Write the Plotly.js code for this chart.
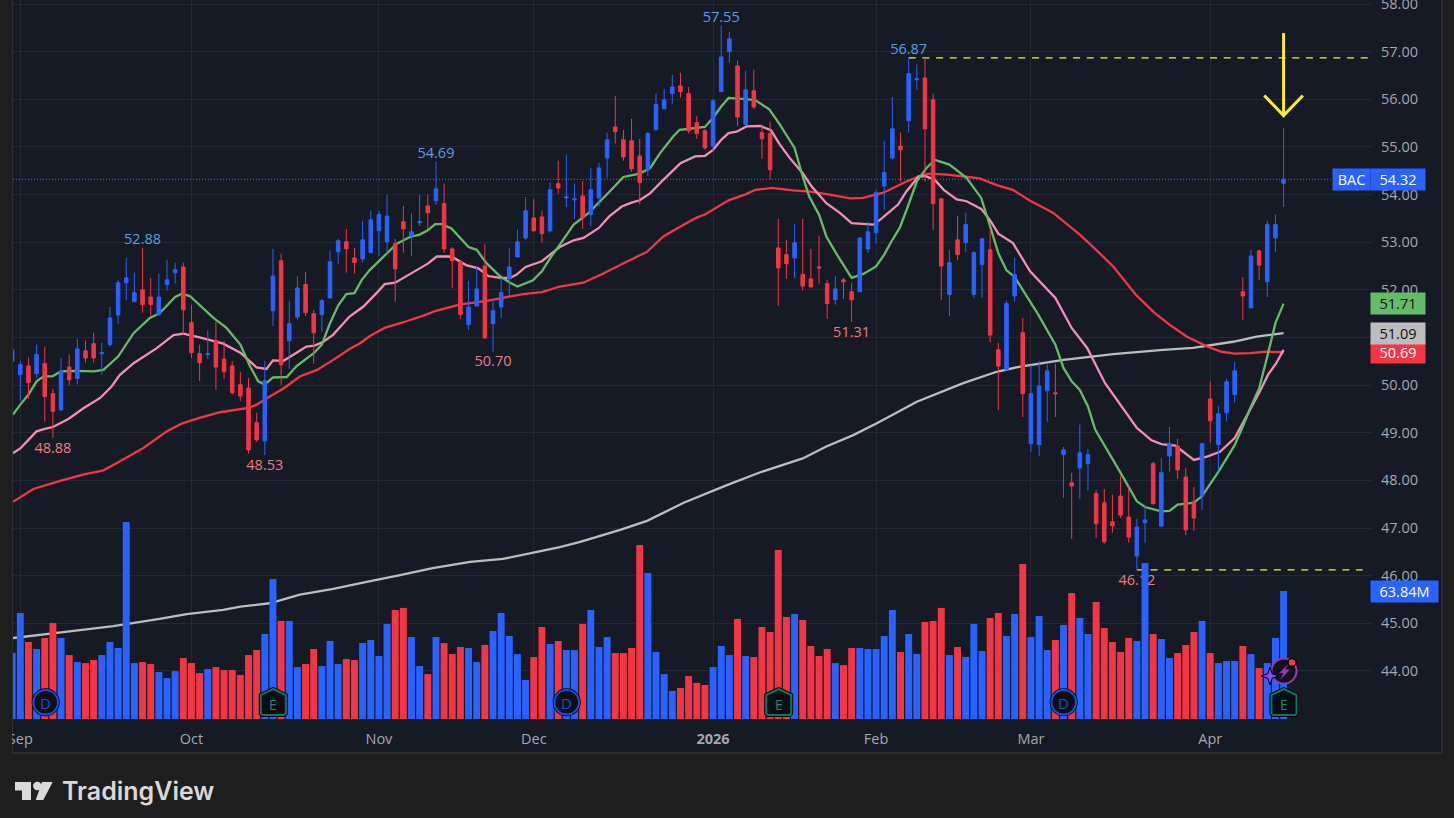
<!DOCTYPE html>
<html>
<head>
<meta charset="utf-8">
<script src="https://cdn.plot.ly/plotly-3.0.1.min.js"></script>
<style>
html,body{margin:0;padding:0;background:#1e1e1e;overflow:hidden;width:1454px;height:818px}
#pane{position:absolute;left:12px;top:-2px;width:1428px;height:754px;background:#161a25;border:1px solid #2c2d30;border-width:0 2px 2px 1px}
#chart{position:absolute;left:0;top:0;width:1454px;height:818px}
#cover{position:absolute;left:0;top:0;width:12px;height:818px;background:#1e1e1e}
</style>
</head>
<body>
<div id="pane"></div>
<div id="chart"></div>
<div id="cover"></div>
<script>
// First candle index (bars run -1..155, one session per step)
const firstBar = -1;
const opens = [50.50,
50.22,50.40,50.24,50.45,49.82,49.48,50.38,50.14,50.72,50.87,
50.66,50.85,51.47,52.15,51.75,52.00,51.85,51.48,52.11,52.36,
52.48,51.31,50.66,50.64,50.93,50.55,50.40,50.01,49.94,49.21,
48.83,51.56,52.61,50.93,51.43,52.11,51.50,51.48,51.83,52.80,
53.01,52.67,52.65,52.78,53.24,53.01,52.97,53.43,53.13,53.41,
53.76,53.87,53.81,52.86,52.59,51.27,51.66,52.50,51.29,51.64,
52.23,52.69,53.09,53.51,53.53,53.24,54.23,53.93,53.89,53.97,
53.58,53.93,54.77,55.42,55.15,55.13,54.81,54.52,55.36,55.80,
56.12,56.28,56.12,55.51,55.34,55.02,56.16,57.00,56.70,55.47,
56.18,55.30,55.28,52.88,52.74,52.67,52.32,52.23,52.48,52.13,
51.79,52.21,51.96,51.96,52.86,53.20,54.18,54.77,55.02,55.55,
56.41,56.45,55.99,53.91,51.90,53.05,52.99,51.90,52.53,52.84,
50.74,50.32,51.87,51.10,48.77,48.75,49.88,49.84,48.54,47.95,
48.26,48.35,47.72,47.53,47.13,47.67,47.23,46.41,47.11,48.35,
47.04,48.51,48.72,48.07,47.55,47.67,49.71,48.75,49.42,49.80,
51.96,51.62,52.82,52.17,53.09,54.24];
const closes = [50.74,
50.43,50.05,50.64,49.76,49.45,50.30,50.11,50.76,50.57,50.57,
50.68,51.41,52.15,52.25,51.94,51.69,51.69,51.85,52.21,52.42,
51.58,50.68,50.47,50.66,50.38,50.28,49.84,49.77,48.64,48.85,
50.09,52.29,50.43,51.29,52.04,51.52,51.10,51.77,52.59,53.03,
52.86,52.57,53.05,53.47,53.58,53.55,52.44,53.28,53.22,53.43,
53.62,54.12,52.86,52.61,51.48,51.64,52.02,50.99,51.56,51.94,
52.48,53.01,53.66,53.24,53.18,54.10,54.14,53.95,53.91,53.53,
54.10,54.56,55.15,55.32,54.79,54.54,54.25,55.28,55.89,55.99,
56.26,56.16,55.34,55.28,54.98,55.97,56.89,57.27,55.63,56.20,
55.84,55.17,54.52,52.46,52.55,52.99,52.08,52.06,52.46,51.71,
52.02,52.17,51.79,53.09,53.22,54.04,54.46,55.38,54.94,56.54,
56.43,55.38,53.81,52.50,52.57,52.74,53.37,52.78,53.07,51.05,
50.40,51.71,52.32,49.82,49.82,49.98,50.30,49.82,48.64,47.88,
48.58,48.54,47.09,46.71,47.05,47.27,46.81,47.02,47.17,47.51,
48.16,48.77,48.22,46.96,47.21,48.77,49.25,49.40,50.07,50.30,
51.87,52.71,52.52,53.37,53.37,54.32];
const highs = [51.00,
50.50,50.58,50.85,50.81,49.92,50.57,50.64,50.97,50.93,51.10,
50.89,51.64,52.21,52.67,52.36,52.88,52.25,52.34,52.63,52.57,
52.57,51.69,50.85,51.14,51.33,50.93,50.51,50.28,50.15,49.42,
50.51,52.86,52.76,51.77,52.29,52.38,51.58,51.81,52.82,53.07,
53.28,52.88,53.45,53.66,53.66,53.99,53.07,53.76,53.60,54.00,
54.00,54.69,54.23,52.90,52.61,52.19,52.50,52.97,51.81,52.25,
52.88,53.26,53.95,53.91,53.66,54.25,54.71,54.84,54.23,54.29,
54.56,54.67,55.30,56.07,55.36,55.59,55.17,55.32,56.12,56.22,
56.51,56.56,56.26,55.65,55.38,56.00,57.55,57.42,56.81,56.60,
56.62,55.47,55.53,53.49,53.05,53.39,53.49,52.86,53.13,52.21,
52.29,52.25,52.15,53.09,53.43,54.10,55.13,56.05,55.30,56.87,
56.73,56.87,56.12,53.93,52.84,53.55,53.62,52.82,53.09,53.26,
50.89,51.77,52.67,51.41,50.43,50.51,50.43,50.45,48.70,48.16,
49.17,48.66,47.80,47.82,47.70,48.09,47.88,47.19,47.46,48.39,
48.47,49.12,48.87,48.26,47.86,48.79,50.07,49.56,50.13,50.49,
52.27,52.84,52.84,53.45,53.58,55.40];
const lows = [50.39,
49.67,49.71,50.15,49.23,48.89,49.46,49.99,50.01,50.47,50.47,
50.22,50.81,51.29,51.78,51.75,51.52,51.45,51.45,51.98,52.13,
51.06,50.57,50.09,50.55,49.90,50.13,49.80,49.67,48.56,48.81,
48.53,51.24,50.01,50.34,51.37,51.45,50.45,51.12,51.83,52.55,
52.36,52.34,52.57,52.78,52.71,52.74,51.75,52.78,52.71,53.34,
53.28,53.79,52.78,52.04,51.39,51.16,51.66,50.97,50.70,51.41,
51.87,52.69,53.05,53.22,52.99,53.20,54.02,53.74,53.49,53.28,
53.34,53.76,54.35,55.07,54.71,54.48,53.79,54.39,55.36,55.80,
55.91,56.03,55.28,55.17,54.94,54.90,56.16,56.77,55.44,55.47,
55.80,54.75,54.31,51.66,52.23,52.25,51.98,52.06,52.13,51.39,
51.69,51.81,51.33,51.96,52.78,52.97,53.68,54.73,54.27,55.30,
56.20,54.27,53.26,51.79,51.45,52.63,52.80,51.83,51.83,50.90,
49.48,50.32,51.75,49.33,48.60,48.51,49.23,49.33,47.63,46.77,
47.61,47.78,46.79,46.67,46.90,47.21,46.69,46.12,46.69,47.49,
47.02,48.18,48.03,46.85,46.94,47.38,48.79,48.20,49.25,49.63,
51.37,51.62,52.21,51.85,52.80,53.74];
const volumes = [32.9,
52.9,38.4,34.9,40.4,47.9,40.4,31.9,28.4,27.9,29.4,
31.9,38.4,35.4,98.3,27.9,28.4,27.4,23.4,20.4,23.9,
30.4,27.9,22.9,24.9,25.9,24.4,24.4,21.9,31.9,34.4,
42.4,69.8,48.9,48.9,25.9,27.4,34.9,26.4,38.9,27.4,
29.9,29.4,37.9,39.4,31.4,47.4,54.4,55.4,40.9,26.4,
22.4,40.9,37.9,32.4,35.9,35.4,28.4,36.9,43.9,52.9,
41.4,32.4,19.5,30.9,45.9,37.4,38.9,34.4,34.4,47.4,
54.4,35.9,40.9,32.9,32.9,35.4,86.8,72.8,33.4,22.4,
14.0,15.5,21.4,18.0,17.0,25.9,36.4,31.9,49.9,31.4,
30.9,45.9,43.4,84.3,50.9,52.4,49.4,36.4,31.4,34.9,
27.9,26.9,35.4,35.4,34.9,34.9,41.4,54.4,33.4,42.4,
32.4,48.4,48.9,55.4,31.9,35.9,30.9,47.4,33.9,50.4,
52.9,41.4,52.4,77.3,40.9,51.4,34.4,39.4,46.9,62.8,
50.4,42.4,58.4,45.4,38.4,33.4,40.4,38.9,77.8,42.4,
39.9,30.4,32.9,36.9,43.4,48.9,32.9,27.9,28.9,28.9,
36.4,32.4,25.4,27.9,40.4,63.84];

// Moving averages: bar position, value
const greenX = [-0.9,0,1,2,2.8,4,5,6.9,9,10.2,12,13.9,15.9,17.1,19,19.8,20.8,23.7,25.3,27,28.2,29.2,30,31,32.7,33.9,36,37,38,39,40,41,41.9,42.9,44.1,46.2,47.8,49,50,50.9,51.7,52.9,55,56,57.2,58.9,60.1,61,62.9,64,65,66.2,67.9,69.7,71.9,74,76,77.3,78.5,80.1,80.9,84,85,86,86.9,90.1,91.9,93.2,95,96,96.8,98,98.9,100.2,102,103.5,105,106,106.9,107.9,108.9,110,111.2,112.2,114,116.1,117.9,119,120,121,122,124.9,127,128,129,130,131,131.9,134.9,137,138,140,141,142,144,145,147,149,150,151,152,153,154,155];
const greenY = [49.38,49.59,49.80,50.08,50.18,50.19,50.29,50.30,50.29,50.32,50.60,51.09,51.41,51.51,51.85,51.92,51.87,51.41,51.20,50.85,50.39,50.08,50.01,50.16,50.17,50.40,50.67,50.85,51.30,51.67,51.91,51.93,52.21,52.42,52.62,52.97,53.11,53.16,53.25,53.38,53.38,53.29,52.90,52.84,52.56,52.28,52.15,52.07,52.20,52.39,52.66,52.95,53.37,53.61,53.99,54.37,54.44,54.56,54.87,55.22,55.36,55.42,55.61,55.85,56.03,55.99,55.79,55.47,54.98,54.38,53.96,53.58,53.12,52.74,52.25,52.34,52.49,52.74,53.02,53.30,53.75,54.28,54.56,54.73,54.63,54.35,53.93,53.33,52.77,52.41,52.27,51.48,50.85,50.36,50.08,49.90,49.55,49.06,48.19,47.56,47.44,47.35,47.36,47.49,47.53,47.67,48.18,48.74,49.13,49.55,49.93,50.60,51.30,51.71];
const pinkX = [-0.9,0,1,2,3,4,5.9,7.7,9.8,11.2,12.2,13.9,16.7,18.8,20,22,24.9,27,29,30.2,31,32.3,33.9,35.1,36.1,37.2,38.4,40.4,42.1,43.7,44.7,46,47.8,50,51.1,52.9,54.7,56.2,57.4,58.9,60.1,60.9,62,64,65,66.2,67.9,69.1,71,72.3,73.8,75,76,77.3,78.9,81,82.8,84,85,86,86.9,87.9,89.1,90.8,92.1,93.2,94.4,96,97.1,98.9,100.6,102,104.7,105.7,107.7,108.7,110.2,111,112.2,113.3,114.9,116.1,117.9,119,120,121.8,123.9,127,129,130.9,133.1,137,138.8,140,141.7,144,145.6,147.2,149,151,152.1,153.1,154.1,155];
const pinkY = [48.57,48.67,48.85,49.03,49.08,49.12,49.29,49.51,49.73,49.97,50.21,50.46,50.77,51.05,51.08,51.00,50.87,50.68,50.37,50.34,50.52,50.51,50.68,50.81,50.83,50.91,51.06,51.44,51.65,51.93,52.12,52.15,52.33,52.55,52.70,52.70,52.52,52.45,52.29,52.25,52.25,52.32,52.48,52.60,52.74,52.90,53.04,53.09,53.30,53.55,53.75,53.83,53.88,54.03,54.31,54.66,54.80,54.81,54.94,55.15,55.29,55.32,55.43,55.44,55.35,55.05,54.77,54.45,54.17,53.82,53.61,53.40,53.37,53.50,53.79,54.06,54.38,54.39,54.31,54.10,53.90,53.86,53.70,53.46,53.18,52.98,52.39,51.83,51.20,50.78,50.04,49.10,48.84,48.76,48.73,48.43,48.50,48.60,48.89,49.52,49.87,50.22,50.46,50.74];
const redX = [-0.9,1.6,4.9,7.7,10.2,11.8,15.1,18,19.8,22,24.5,28,29,30.6,32.3,34.3,36.4,38.4,40.5,41.7,42.9,44.7,47.4,49.8,51,53.9,57.2,61.7,64,66.2,69.1,71.6,73.6,76.9,78.9,80.9,82.9,84,86.9,88.9,90.2,92.2,94.8,96.9,99.3,101.8,103.4,105.9,108.8,110.4,111.6,113.7,115.7,117.7,119.8,121.8,123.8,126.7,130,132,134.1,136.9,139.2,141,143.1,145.6,147.4,149,150.9,152.9,155];
const redY = [47.55,47.82,47.99,48.12,48.21,48.36,48.68,49.03,49.19,49.31,49.43,49.52,49.59,49.76,49.93,50.18,50.32,50.53,50.77,50.88,51.03,51.20,51.34,51.48,51.56,51.69,51.77,51.91,51.95,52.07,52.15,52.35,52.52,52.80,53.12,53.32,53.51,53.58,53.88,54.00,54.10,54.14,54.09,54.06,54.00,53.92,53.93,54.04,54.28,54.39,54.44,54.42,54.38,54.34,54.20,54.10,53.88,53.62,53.16,52.84,52.49,51.89,51.51,51.27,51.02,50.81,50.70,50.66,50.67,50.70,50.69];
const grayX = [-0.9,4.5,11.4,17.1,20.4,24.9,27,30.6,34.3,38.4,42.5,46.6,50.6,55.2,59.2,63.4,66.2,68.7,73.6,76.9,81.4,86.7,90.8,96,98.9,102.2,105.1,110,115.7,119.8,122.7,128,134.1,140.2,143.9,148.8,151.7,155];
const grayY = [44.69,44.80,44.94,45.09,45.19,45.28,45.35,45.42,45.60,45.72,45.87,46.01,46.16,46.29,46.35,46.50,46.60,46.71,46.96,47.15,47.53,47.90,48.17,48.46,48.71,48.95,49.20,49.65,50.04,50.28,50.39,50.53,50.65,50.74,50.78,50.91,51.02,51.09];

// Time axis
const monthBars = [0,21,44,63,85,105,124,146];
const monthNames = ['Sep','Oct','Nov','Dec','<b>2026</b>','Feb','Mar','Apr'];
// Price axis
const priceTicks = [44,45,46,47,48,49,50,51,52,53,54,55,56,57,58];
const priceTickText = ['44.00','45.00','46.00','47.00','48.00','49.00','50.00','51.00','52.00','53.00','54.00','55.00','56.00','57.00','58.00'];
// Swing high / low labels
const highBars = [15,51,86,109];
const highVals = [52.88,54.69,57.55,56.87];
const lowBars = [4,30,58,102,137];
const lowVals = [48.88,48.53,50.70,51.31,46.12];
// Horizontal levels
const levelHigh = 56.87, levelLow = 46.12, lastPrice = 54.32, lastBar = 155;
// Arrow annotation drawn on the chart
const arrowX = [155,155], arrowY = [57.39,55.66];
const arrowHeadX = [152.63,155,157.37], arrowHeadY = [56.08,55.66,56.08];

const BLUE='#2962ff', RED='#f23645', GREEN='#66bb6a', PINK='#f48fb1', GRAY='#bdbdbd', YEL='#ffeb3b';
const FONT='"Open Sans", sans-serif', TICK='#a5a7ae', FS=14.5;
const barIdx = opens.map((_,k)=>k+firstBar);
const volColors = opens.map((o,k)=>closes[k]>=o?BLUE:RED);

const L=13, R=1372, B=719;
const W=1454, H=818;
const px=x=>(x-L)/(R-L), py=y=>(B-y)/B;
const path=pts=>'M'+pts.map(p=>px(p[0])+','+py(p[1])).join(' L')+' Z';
const pl=(pts,fill,color,w)=>({type:'path',xref:'paper',yref:'paper',layer:'above',path:path(pts),fillcolor:fill,line:{color:color,width:w}});
const circ=(cx,cy,r,fill,color,w)=>({type:'circle',xref:'paper',yref:'paper',layer:'above',x0:px(cx-r),x1:px(cx+r),y0:py(cy+r),y1:py(cy-r),fillcolor:fill,line:{color:color,width:w}});

const lineTrace=(x,y,color)=>({type:'scatter',mode:'lines',x:x,y:y,line:{color:color,width:2.3,shape:'linear',simplify:false},hoverinfo:'skip',cliponaxis:true});
const traces=[
 {type:'scatter',mode:'lines',x:[-0.9,160.8],y:[lastPrice,lastPrice],line:{color:BLUE,width:1.2,dash:'1px,2px'},hoverinfo:'skip'},
 lineTrace(grayX,grayY,GRAY),
 lineTrace(redX,redY,RED),
 lineTrace(pinkX,pinkY,PINK),
 lineTrace(greenX,greenY,GREEN),
 {type:'scatter',mode:'lines',x:[109,165.4],y:[levelHigh,levelHigh],line:{color:YEL,width:1.3,dash:'7px,6.7px'},hoverinfo:'skip'},
 {type:'scatter',mode:'lines',x:[137,164.7],y:[levelLow,levelLow],line:{color:YEL,width:1.3,dash:'7px,6.7px'},hoverinfo:'skip'},
 {type:'scatter',mode:'text',x:highBars,y:highVals,text:highVals.map(v=>v.toFixed(2)),textposition:'top center',textfont:{family:FONT,size:FS,color:'#5b9ce8'},cliponaxis:false,hoverinfo:'skip'},
 {type:'scatter',mode:'markers+text',x:lowBars,y:lowVals,text:lowVals.map(v=>v.toFixed(2)),textposition:'bottom center',marker:{size:4.5,opacity:0},textfont:{family:FONT,size:FS,color:'#e97e80'},cliponaxis:false,hoverinfo:'skip'},
 {type:'scatter',mode:'lines',x:arrowX,y:arrowY,line:{color:YEL,width:3},hoverinfo:'skip'},
 {type:'scatter',mode:'lines',x:arrowHeadX,y:arrowHeadY,line:{color:YEL,width:3},hoverinfo:'skip'},
 {type:'candlestick',x:barIdx,open:opens,high:highs,low:lows,close:closes,yaxis:'y2',whiskerwidth:0,
  increasing:{line:{color:BLUE,width:1},fillcolor:BLUE},decreasing:{line:{color:RED,width:1},fillcolor:RED},hoverinfo:'skip'},
 {type:'bar',x:barIdx,y:volumes,yaxis:'y3',width:0.85,marker:{color:volColors,line:{width:0}},hoverinfo:'skip'}
];

const hi=[[0,-6.5],[12.5,-0.5],[12.5,18],[11,19.5],[-11,19.5],[-12.5,18],[-12.5,-0.5]];
const house=(cx)=>{const pts=hi.map(p=>[cx+p[0],695.5+p[1]]);return [pl(pts,'#0a0e14','#000000',4),pl(pts,'#0a0e14','#0a7563',2)];};
const dCircle=(cx)=>[circ(cx,702.3,14,'#000000','#000000',0),circ(cx,702.3,12.3,'#0b0f18','#1b4fd6',2)];
const dCenters=[45.7,566.7,1063.7], eCenters=[273.3,778.7,1284];
const shapes=[];
dCenters.forEach(c=>shapes.push(...dCircle(c)));
eCenters.forEach(c=>shapes.push(...house(c)));
shapes.push(circ(1284,671,12.5,'#11131c','#8e3fb0',2));
shapes.push(pl([[1289,663.5],[1279,673],[1283.5,673],[1280,680],[1290,669.5],[1285,669.5]],'#8e3fb0','#8e3fb0',0));
shapes.push(pl([[1270,667],[1272.2,673.8],[1279,676],[1272.2,678.2],[1270,685],[1267.8,678.2],[1261,676],[1267.8,673.8]],'#7c4dff','#000000',1));
shapes.push(circ(1292,662.5,4,'#f23645','#000000',1.5));
// logo
shapes.push(pl([[15,782],[31,782],[31,800],[22,800],[22,790.5],[15,790.5]],'#d9d9d9','#d9d9d9',0));
shapes.push(circ(37.3,786,4.2,'#d9d9d9','#d9d9d9',0));
shapes.push(pl([[42,782],[52.7,782],[43.3,800],[35.7,800]],'#d9d9d9','#d9d9d9',0));

const tag=(text,x0,x1,yref,y,bg,fg,h)=>({xref:'paper',yref:yref,x:px(x0),y:y,xanchor:'left',yanchor:'middle',width:x1-x0,height:h||21,align:'center',valign:'middle',
  text:text,showarrow:false,bgcolor:bg,borderpad:0,font:{family:FONT,size:FS,color:fg}});
const note=(text,x,y,color,size,extra)=>Object.assign({xref:'paper',yref:'paper',x:px(x),y:py(y),xanchor:'center',yanchor:'middle',text:text,showarrow:false,font:{family:FONT,size:size,color:color}},extra||{});
const annotations=[
 tag('BAC',1332,1369,'y',lastPrice,BLUE,'#ffffff'),
 tag(lastPrice.toFixed(2),1370,1424,'y',lastPrice,BLUE,'#ffffff'),
 tag('51.71',1370,1424,'y',51.71,GREEN,'#111111'),
 tag('50.69',1370,1424,'y',50.69,RED,'#ffffff'),
 tag('51.09',1370,1424,'y',51.09,GRAY,'#111111'),
 tag('63.84M',1370,1437,'y3',63.84,BLUE,'#ffffff'),
];
dCenters.forEach(c=>annotations.push(note('D',c,702.5,'#1b4fd6',15)));
eCenters.forEach(c=>annotations.push(note('E',c,704,'#0a8a73',14)));
annotations.push({xref:'paper',yref:'paper',x:px(60),y:py(791),xanchor:'left',yanchor:'middle',text:'TradingView',showarrow:false,
  font:{family:'Inter, sans-serif',size:25,color:'#d9d9d9',weight:600}});

const yRange=[42.99,58.085];
const layout={
 width:W,height:H,paper_bgcolor:'rgba(0,0,0,0)',plot_bgcolor:'rgba(0,0,0,0)',
 margin:{l:L,r:W-R,t:0,b:H-B,pad:0},showlegend:false,hovermode:false,boxgap:0.38,boxmode:'overlay',barmode:'overlay',
 font:{family:FONT,size:FS,color:TICK},
 xaxis:{type:'linear',range:[-0.896,165.85],tickmode:'array',tickvals:monthBars,ticktext:monthNames,showgrid:true,gridcolor:'#242834',gridwidth:1,zeroline:false,showline:false,ticks:'',ticklabelstandoff:9,tickfont:{family:FONT,size:FS,color:TICK},rangeslider:{visible:false},tickangle:0,automargin:false},
 yaxis:{type:'linear',range:yRange,side:'right',tickmode:'array',tickvals:priceTicks,ticktext:priceTickText,showgrid:true,gridcolor:'#242834',gridwidth:1,zeroline:false,showline:false,ticks:'',ticklabelstandoff:8,ticklabeloverflow:'allow',tickfont:{family:FONT,size:FS,color:TICK},automargin:false},
 yaxis2:{type:'linear',range:yRange,overlaying:'y',side:'right',visible:false},
 yaxis3:{type:'linear',range:[0,358.6],overlaying:'y',side:'right',visible:false},
 shapes:shapes,annotations:annotations
};
Plotly.newPlot('chart',traces,layout,{staticPlot:true,displayModeBar:false});
</script>
</body>
</html>
